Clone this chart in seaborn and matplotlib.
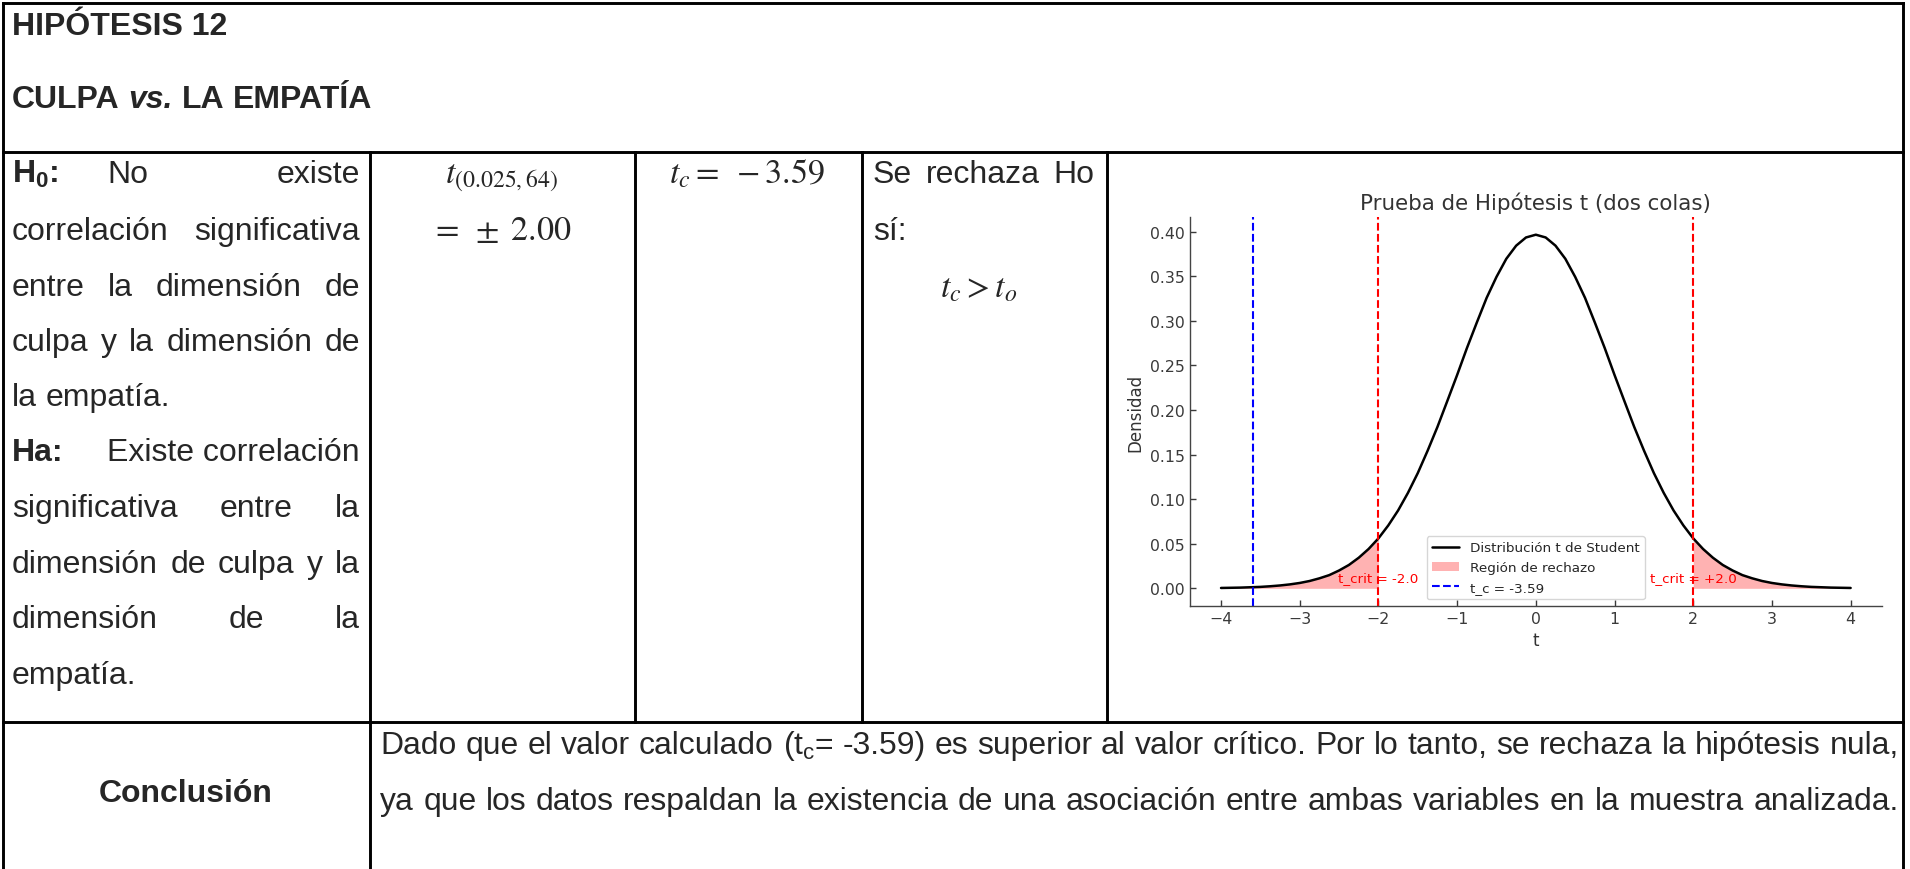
import matplotlib
matplotlib.use("Agg")
import matplotlib.pyplot as plt
import seaborn as sns
import pandas as pd
from matplotlib.lines import Line2D

# ---------------- data ----------------
t_values = [-4.0, -3.875, -3.75, -3.625, -3.5, -3.375, -3.25, -3.125, -3.0, -2.875, -2.75, -2.625,
            -2.5, -2.375, -2.25, -2.125, -2.0, -1.875, -1.75, -1.625, -1.5, -1.375, -1.25, -1.125,
            -1.0, -0.875, -0.75, -0.625, -0.5, -0.375, -0.25, -0.125, 0.0,
            0.125, 0.25, 0.375, 0.5, 0.625, 0.75, 0.875, 1.0, 1.125, 1.25, 1.375, 1.5, 1.625,
            1.75, 1.875, 2.0, 2.125, 2.25, 2.375, 2.5, 2.625, 2.75, 2.875, 3.0, 3.125, 3.25,
            3.375, 3.5, 3.625, 3.75, 3.875, 4.0]
density = [0.0004, 0.0006, 0.0008, 0.0012, 0.0016, 0.0023, 0.0032, 0.0044, 0.0060, 0.0082, 0.0112, 0.0148,
           0.0200, 0.0262, 0.0343, 0.0441, 0.0560, 0.0705, 0.0873, 0.1070, 0.1292, 0.1543, 0.1810, 0.2100,
           0.2392, 0.2695, 0.2980, 0.3257, 0.3492, 0.3695, 0.3842, 0.3934, 0.3965,
           0.3934, 0.3842, 0.3695, 0.3492, 0.3257, 0.2980, 0.2695, 0.2392, 0.2100, 0.1810, 0.1543, 0.1292, 0.1070,
           0.0873, 0.0705, 0.0560, 0.0441, 0.0343, 0.0262, 0.0200, 0.0148, 0.0112, 0.0082, 0.0060, 0.0044, 0.0032,
           0.0023, 0.0016, 0.0012, 0.0008, 0.0006, 0.0004]
t_crit = 2.0
t_calc = -3.59
x_ticks = [-4, -3, -2, -1, 0, 1, 2, 3, 4]
y_ticks = [0.00, 0.05, 0.10, 0.15, 0.20, 0.25, 0.30, 0.35, 0.40]

title_1 = "HIPÓTESIS 12"
h0_words = ["correlación significativa", "entre la dimensión de", "culpa y la dimensión de", "la empatía."]
ha_words = ["significativa entre la", "dimensión de culpa y la", "dimensión de la", "empatía."]
conclusion_1 = "Dado que el valor calculado (t$_\\mathrm{c}$= -3.59) es superior al valor crítico. Por lo tanto, se rechaza la hipótesis nula,"
conclusion_2 = "ya que los datos respaldan la existencia de una asociación entre ambas variables en la muestra analizada."

# ---------------- style ----------------
sns.set_style("ticks", {"xtick.direction": "in", "ytick.direction": "in"})
plt.rcParams["font.family"] = ["DejaVu Sans"]
plt.rcParams["mathtext.fontset"] = "custom"
plt.rcParams["mathtext.rm"] = "Liberation Sans"
plt.rcParams["mathtext.bf"] = "Liberation Sans:bold"
plt.rcParams["mathtext.it"] = "Liberation Sans:italic"

W, H = 1910, 870
fig = plt.figure(figsize=(W / 100, H / 100), dpi=100)
fig.patch.set_facecolor("white")
renderer = fig.canvas.get_renderer()


def fx(x):
    return x / W


def fy(y):
    return 1 - y / H


# ---------------- table grid ----------------
LW = 2.1


def hline(y, x0, x1):
    fig.add_artist(Line2D([fx(x0), fx(x1)], [fy(y), fy(y)], transform=fig.transFigure,
                          color="black", lw=LW, solid_capstyle="projecting"))


def vline(x, y0, y1):
    fig.add_artist(Line2D([fx(x), fx(x)], [fy(y0), fy(y1)], transform=fig.transFigure,
                          color="black", lw=LW, solid_capstyle="projecting"))


hline(4, 3, 1903)
hline(153, 3, 1903)
hline(723, 3, 1903)
vline(3, 4, 870)
vline(1903, 4, 870)
vline(370, 153, 870)
vline(635, 153, 723)
vline(862, 153, 723)
vline(1107, 153, 723)

# ---------------- text helpers ----------------
FS = 23
MFS = 24.5
FAM = "Liberation Sans"


def mk(s, fs=FS, **kw):
    kw.setdefault("family", FAM)
    return fig.text(0, 0, s, fontsize=fs, va="baseline", ha="left", **kw)


def width(t):
    return t.get_window_extent(renderer).width


def space_w(fs=FS, **kw):
    a = mk("a a", fs, **kw)
    b = mk("aa", fs, **kw)
    w = width(a) - width(b)
    a.remove()
    b.remove()
    return w


def line(items, x0, y, x1=None, fs=FS):
    objs = [mk(s, fs, **kw) for s, kw in items]
    ws = [width(o) for o in objs]
    if x1 is None or len(objs) == 1:
        g = space_w(fs)
    else:
        g = (x1 - x0 - sum(ws)) / (len(objs) - 1)
    x = x0
    for o, w in zip(objs, ws):
        o.set_position((fx(x), fy(y)))
        x += w + g
    return objs


B = {"weight": "bold"}
R = {}

# header
line([(title_1, B)], 12, 35)
line([("CULPA", B), ("vs.", {"weight": "bold", "style": "italic"}), ("LA", B), ("EMPATÍA", B)], 12, 108)

# column 1
X0, X1 = 12, 360
base = [183, 240, 296, 351, 406, 461, 517, 573, 628, 684]
fig.text(fx(X0), fy(base[0]), "$\\mathbf{H_0}$:", fontsize=FS, family=FAM, weight="bold",
         va="baseline", ha="left", math_fontfamily="custom")
fig.text(fx(107), fy(base[0]), "No", fontsize=FS, family=FAM, va="baseline", ha="left")
fig.text(fx(X1), fy(base[0]), "existe", fontsize=FS, family=FAM, va="baseline", ha="right")
justify_flags = [True, True, True, False]
for s, y, j in zip(h0_words, base[1:5], justify_flags):
    line([(w, R) for w in s.split()], X0, y, X1 if j else None)
fig.text(fx(X0), fy(base[5]), "Ha:", fontsize=FS, family=FAM, weight="bold", va="baseline", ha="left")
fig.text(fx(X1), fy(base[5]), "Existe correlación", fontsize=FS, family=FAM, va="baseline", ha="right")
for s, y, j in zip(ha_words, base[6:10], justify_flags):
    line([(w, R) for w in s.split()], X0, y, X1 if j else None)

# columns 2-4 (equations)
fig.text(fx(501), fy(183), "$t_{(0.025,64)}$", fontsize=MFS, ha="center", va="baseline", math_fontfamily="stix")
fig.text(fx(501), fy(240), "$=\\;\\pm\\;2.00$", fontsize=MFS, ha="center", va="baseline", math_fontfamily="stix")
fig.text(fx(747), fy(183), "$t_c =\\ -3.59$", fontsize=MFS, ha="center", va="baseline", math_fontfamily="stix")
line([("Se", R), ("rechaza", R), ("Ho", R)], 873, 183, 1094)
line([("sí:", R)], 873, 240)
fig.text(fx(979), fy(297), "$t_c > t_o$", fontsize=MFS, ha="center", va="baseline", math_fontfamily="stix")

# conclusion row
fig.text(fx(186), fy(802), "Conclusión", fontsize=FS, family=FAM, weight="bold", ha="center", va="baseline")
CX0, CX1 = 380, 1899
words1 = conclusion_1.split()
words2 = conclusion_2.split()
tmp = [mk(w) for w in words1]
nat1 = sum(width(t) for t in tmp) + space_w() * (len(tmp) - 1)
for t in tmp:
    t.remove()
tmp = [mk(w) for w in words2]
nat2 = sum(width(t) for t in tmp) + space_w() * (len(tmp) - 1)
for t in tmp:
    t.remove()
cfs = FS * min(1.0, (CX1 - CX0) / max(nat1, nat2))
line([(w, R) for w in words1], CX0, 754, CX1, fs=cfs)
line([(w, R) for w in words2], CX0, 810, CX1, fs=cfs)

# ---------------- chart ----------------
ax = fig.add_axes([0.6228, 0.3023, 0.3626, 0.4471])
df = pd.DataFrame({"t": t_values, "densidad": density})
sns.lineplot(data=df, x="t", y="densidad", color="black", lw=1.8, ax=ax,
             label="Distribución t de Student")
ax.fill_between(df["t"], df["densidad"], where=df["t"] <= -t_crit, color="red", alpha=0.3,
                lw=0, label="Región de rechazo")
ax.fill_between(df["t"], df["densidad"], where=df["t"] >= t_crit, color="red", alpha=0.3, lw=0)
ax.axvline(-t_crit, color="red", ls="--", lw=1.5)
ax.axvline(t_crit, color="red", ls="--", lw=1.5)
ax.axvline(t_calc, color="blue", ls="--", lw=1.5, label=f"t_c = {t_calc}")
ax.text(-t_crit, 0.005, f"t_crit = -{t_crit}", color="red", ha="center", va="bottom", fontsize=9.7)
ax.text(t_crit, 0.005, f"t_crit = +{t_crit}", color="red", ha="center", va="bottom", fontsize=9.7)

ax.set_xticks(x_ticks)
ax.set_yticks(y_ticks)
ax.yaxis.set_major_formatter(matplotlib.ticker.FormatStrFormatter("%.2f"))
ax.set_title("Prueba de Hipótesis t (dos colas)", fontsize=15.4, color="#333333")
ax.set_xlabel("t", fontsize=12, color="#333333")
ax.set_ylabel("Densidad", fontsize=12, color="#333333")
ax.tick_params(axis="both", direction="in", labelsize=11.3, colors="#3a3a3a", length=4, width=1)
sns.despine(ax=ax)
for sp in ("left", "bottom"):
    ax.spines[sp].set_color("#444444")
    ax.spines[sp].set_linewidth(1.0)
ax.legend(loc="lower center", fontsize=9.7)

fig.savefig("out.png", dpi=100, facecolor="white")
